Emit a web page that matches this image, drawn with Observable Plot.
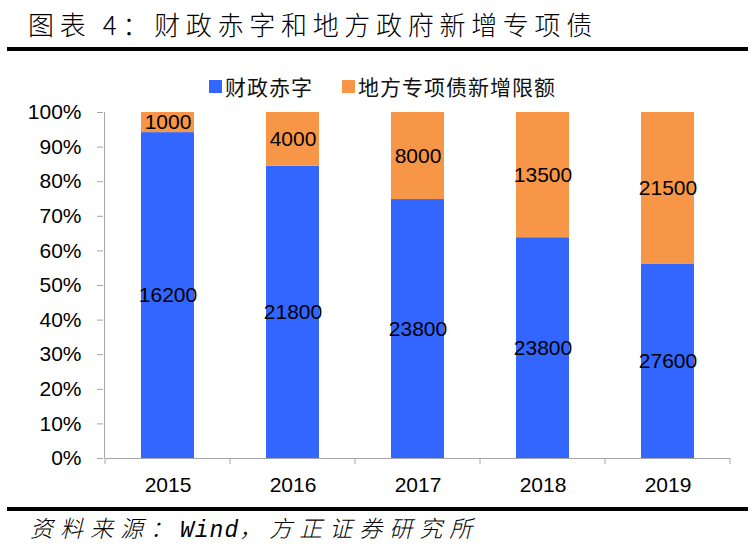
<!DOCTYPE html>
<html><head><meta charset="utf-8">
<script src="https://cdn.jsdelivr.net/npm/d3@7"></script>
<script src="https://cdn.jsdelivr.net/npm/@observablehq/plot@0.6"></script>
<style>
body{margin:0;background:#fff;width:754px;height:555px;position:relative;overflow:hidden;}
.abs{position:absolute;}
#title{left:28px;top:9px;font-family:"Noto Sans CJK SC",sans-serif;font-weight:300;font-size:26px;line-height:30px;letter-spacing:5.7px;color:#000;white-space:nowrap;}
.rule{left:7px;width:741px;height:4px;background:#000;}
#legend{left:209px;top:72px;font-family:"Noto Sans CJK SC",sans-serif;font-size:21px;line-height:28px;letter-spacing:1px;color:#111;white-space:nowrap;display:flex;align-items:center;}
#legend .sw{display:inline-block;width:13px;height:13px;margin-right:3px;}
#legend .item{display:flex;align-items:center;margin-right:29px;}
#caption{left:30px;top:512px;font-family:"Noto Sans CJK SC",sans-serif;font-weight:300;font-size:23px;line-height:30px;font-style:italic;letter-spacing:7px;color:#000;white-space:nowrap;}
#caption .lat{font-family:"Liberation Mono",monospace;letter-spacing:1px;}
#chart{left:0;top:100px;}
</style></head>
<body>
<div id="title" class="abs">图表 4：财政赤字和地方政府新增专项债</div>
<div class="abs rule" style="top:46.5px"></div>
<div id="legend" class="abs"></div>
<div id="chart" class="abs"></div>
<div class="abs rule" style="top:507px"></div>
<div id="caption" class="abs">资料来源：<span class="lat">Wind</span>，方正证券研究所</div>
<script>
const years = ["2015", "2016", "2017", "2018", "2019"];
const deficit = [16200, 21800, 23800, 23800, 27600];
const specialBonds = [1000, 4000, 8000, 13500, 21500];
const seriesNames = ["财政赤字", "地方专项债新增限额"];
const seriesColors = ["#3366FF", "#F79646"];
const yTicks = [0, 0.1, 0.2, 0.3, 0.4, 0.5, 0.6, 0.7, 0.8, 0.9, 1];

const data = years.flatMap((yr, i) => [
  {year: yr, series: seriesNames[0], value: deficit[i]},
  {year: yr, series: seriesNames[1], value: specialBonds[i]}
]);

const axisColor = "#a6a6a6";
const plot = Plot.plot({
  width: 754, height: 400,
  marginTop: 12, marginBottom: 42, marginLeft: 103, marginRight: 22,
  x: {domain: years, paddingInner: 0.58, paddingOuter: 0.29, label: null},
  y: {domain: [0, 1], label: null},
  color: {domain: seriesNames, range: seriesColors},
  style: {fontFamily: "'Liberation Sans', Arial, sans-serif", fontSize: "21px", color: "#000", background: "transparent"},
  marks: [
    Plot.barY(data, Plot.stackY({x: "year", y: "value", z: "series", fill: "series", offset: "normalize"})),
    Plot.text(data, Plot.stackY({x: "year", y: "value", z: "series", offset: "normalize", text: d => String(d.value), fill: "#000", fontSize: 21})),
    Plot.axisY({ticks: yTicks, tickFormat: d3.format(".0%"), tickSize: 6, tickPadding: 16, stroke: axisColor, fill: "#000", fontSize: 21, label: null}),
    Plot.axisX({tickSize: 0, tickPadding: 19, stroke: axisColor, fill: "#000", fontSize: 21, label: null})
  ]
});
document.getElementById("chart").appendChild(plot);

// axis lines and category boundary tick marks
const xs = plot.scale("x"), ys = plot.scale("y");
const gap = (xs.step - xs.bandwidth) / 2;
const bounds = years.map(y => xs.apply(y) - gap).concat([xs.apply(years[years.length - 1]) + xs.bandwidth + gap]);
const y0 = ys.apply(0), y1 = ys.apply(1);
const g = d3.select(plot).append("g").attr("stroke", axisColor).attr("stroke-width", 1);
g.append("line").attr("x1", bounds[0]).attr("x2", bounds[bounds.length - 1]).attr("y1", y0 + 0.5).attr("y2", y0 + 0.5);
g.append("line").attr("x1", bounds[0] - 0.5).attr("x2", bounds[0] - 0.5).attr("y1", y1).attr("y2", y0);
g.selectAll("line.b").data(bounds).join("line").attr("class", "b")
  .attr("x1", d => d).attr("x2", d => d).attr("y1", y0).attr("y2", y0 + 6);

// legend
const lg = d3.select("#legend");
seriesNames.forEach((s, i) => {
  const it = lg.append("span").attr("class", "item");
  it.append("span").attr("class", "sw").style("background", seriesColors[i]);
  it.append("span").text(s);
});
</script>
</body></html>
